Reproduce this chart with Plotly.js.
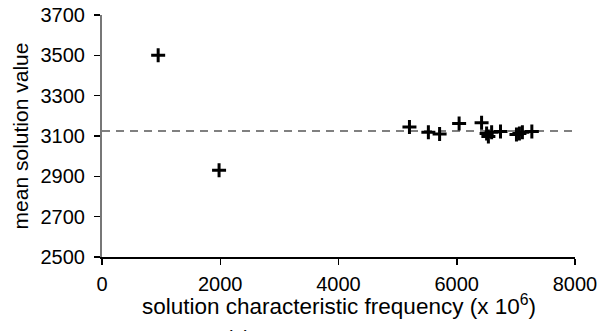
<!DOCTYPE html>
<html>
<head>
<meta charset="utf-8">
<script src="https://cdn.plot.ly/plotly-3.0.1.min.js"></script>
<style>
  html, body { margin: 0; padding: 0; background: #fff; }
  #chart { width: 599px; height: 331px; }
</style>
</head>
<body>
<div id="chart"></div>
<script>
// Characteristic frequency (x 10^6) of each solution and its mean value
const frequency = [950, 1980, 5200, 5520, 5710, 6040, 6420, 6505, 6535, 6590, 6740, 7010, 7060, 7110, 7270];
const meanValue = [3500, 2930, 3145, 3118, 3110, 3162, 3166, 3113, 3098, 3118, 3122, 3108, 3112, 3118, 3122];
// Reference level drawn as a dashed horizontal line
const referenceLevel = 3125;
const referenceSpan = [0, 8000];
const xTicks = [0, 2000, 4000, 6000, 8000];
const yTicks = [2500, 2700, 2900, 3100, 3300, 3500, 3700];

const font = 'Liberation Sans, Arial, sans-serif';

const trace = {
  x: frequency,
  y: meanValue,
  type: 'scatter',
  mode: 'markers',
  marker: {
    symbol: 'cross-thin',
    size: 10,
    color: '#000',
    line: { color: '#000', width: 3 }
  },
  hoverinfo: 'x+y'
};

const layout = {
  width: 599,
  height: 331,
  margin: { l: 102, r: 24, t: 15, b: 74, pad: 0 },
  paper_bgcolor: '#fff',
  plot_bgcolor: '#fff',
  showlegend: false,
  font: { family: font, color: '#000', size: 20 },
  xaxis: {
    range: [0, 8000],
    tickvals: xTicks,
    ticktext: xTicks.map(String),
    ticks: 'outside',
    ticklen: 6,
    tickwidth: 1.5,
    tickcolor: '#000',
    showline: true,
    linecolor: '#000',
    linewidth: 1.5,
    showgrid: false,
    zeroline: false,
    tickfont: { size: 20 },
    ticklabelstandoff: 2
  },
  yaxis: {
    range: [2500, 3700],
    tickvals: yTicks,
    ticktext: yTicks.map(String),
    ticks: 'outside',
    ticklen: 6,
    tickwidth: 1.5,
    tickcolor: '#000',
    showline: true,
    linecolor: '#777',
    linewidth: 2,
    showgrid: false,
    zeroline: false,
    tickfont: { size: 20 },
    ticklabelstandoff: 5,
    title: { text: 'mean solution value', font: { size: 21 }, standoff: 6 }
  },
  shapes: [{
    type: 'line',
    xref: 'x', yref: 'y',
    x0: referenceSpan[0], x1: referenceSpan[1],
    y0: referenceLevel, y1: referenceLevel,
    line: { color: '#808080', width: 2, dash: '8px,6px' },
    layer: 'below'
  }],
  annotations: [
    {
      // x-axis title, placed just under the tick labels
      text: 'solution characteristic frequency (x 10<sup>6</sup>)',
      xref: 'paper', yref: 'paper',
      x: 0.5, y: -0.2,
      xanchor: 'center', yanchor: 'middle',
      showarrow: false,
      font: { size: 22.5, family: font, color: '#000' }
    },
    {
      // panel label sitting at the bottom edge of the figure
      text: '(a)',
      xref: 'paper', yref: 'paper',
      x: 0.288, y: -0.28,
      xanchor: 'center', yanchor: 'top',
      showarrow: false,
      font: { size: 20, family: font, color: '#000' }
    }
  ]
};

Plotly.newPlot('chart', [trace], layout, { displayModeBar: false, staticPlot: true });
</script>
</body>
</html>
